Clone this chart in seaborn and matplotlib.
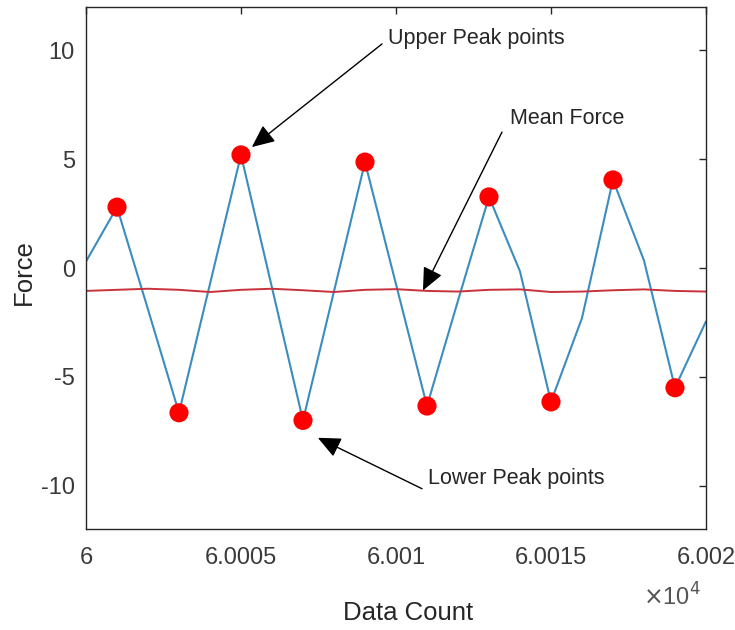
import numpy as np
import pandas as pd
import matplotlib
matplotlib.use("Agg")
import matplotlib.pyplot as plt
import seaborn as sns

# ---- data ----
count = list(range(60000, 60021))
force = [0.3, 2.8, -1.9, -6.65, -0.73, 5.2, -0.9, -7.0, -1.07, 4.87, -0.74,
         -6.34, -1.5, 3.27, -0.15, -6.15, -2.3, 4.05, 0.35, -5.5, -2.45]
mean_force = [-1.05, -1.0, -0.95, -1.0, -1.1, -1.0, -0.95, -1.02, -1.1, -1.0, -0.97,
              -1.05, -1.08, -1.0, -0.98, -1.1, -1.08, -1.02, -0.98, -1.05, -1.08]
upper_peak_idx = [1, 5, 9, 13, 17]
lower_peak_idx = [3, 7, 11, 15, 19]
x_ticks = [60000, 60005, 60010, 60015, 60020]
x_tick_labels = ["6", "6.0005", "6.001", "6.0015", "6.002"]
y_ticks = [-10, -5, 0, 5, 10]
y_tick_labels = ["-10", "-5", "0", "5", "10"]

df = pd.DataFrame({"count": count, "force": force, "mean": mean_force})
peaks = df.iloc[upper_peak_idx + lower_peak_idx]

sns.set_style("white")
plt.rcParams["font.family"] = ["Liberation Sans", "DejaVu Sans"]

fig = plt.figure(figsize=(7.35, 6.3), dpi=100)
ax = fig.add_axes([0.117, 0.160, 0.8435, 0.829])

sns.lineplot(data=df, x="count", y="force", ax=ax, color="#3b8dbf", lw=1.5)
sns.lineplot(data=df, x="count", y="mean", ax=ax, color="#c8323c", lw=1.4)
sns.scatterplot(data=peaks, x="count", y="force", ax=ax, color="#ff0000",
                s=190, edgecolor="none", zorder=5)

ax.set_xlim(60000, 60020)
ax.set_ylim(-12, 12)
ax.set_xticks(x_ticks)
ax.set_xticklabels(x_tick_labels)
ax.set_yticks(y_ticks)
ax.set_yticklabels(y_tick_labels)
ax.tick_params(direction="in", length=5, width=1, top=True, right=True,
               labelsize=17, labelcolor="#3a3a3a", color="#262626")
ax.tick_params(axis="x", pad=13)
ax.tick_params(axis="y", pad=8)
for sp in ax.spines.values():
    sp.set_color("#262626")
    sp.set_linewidth(1)
ax.set_xlabel("Data Count", fontsize=18.5, va="center")
ax.set_ylabel("Force", fontsize=18.5, va="center")
ax.xaxis.set_label_coords(0.519, -0.161)
ax.yaxis.set_label_coords(-0.100, 0.492)

ax.text(0.898, -0.130, r"$\times$10$^4$", transform=ax.transAxes, fontsize=17,
        color="#555555", ha="left", va="center")

arrow = dict(arrowstyle="-|>,head_length=1.0,head_width=0.45", color="black",
             lw=1, mutation_scale=14, shrinkA=0, shrinkB=0)
ax.annotate("", xy=(60005.35, 5.56), xytext=(60009.55, 10.3), arrowprops=arrow)
ax.text(60009.74, 10.55, "Upper Peak points", fontsize=15.5, va="center", ha="left")
ax.annotate("", xy=(60010.87, -1.03), xytext=(60013.42, 6.25), arrowprops=arrow)
ax.text(60013.68, 6.89, "Mean Force", fontsize=15.5, va="center", ha="left")
ax.annotate("", xy=(60007.48, -7.8), xytext=(60010.84, -10.14), arrowprops=arrow)
ax.text(60011.03, -9.68, "Lower Peak points", fontsize=15.5, va="center", ha="left")

fig.savefig("out.png", dpi=100)
